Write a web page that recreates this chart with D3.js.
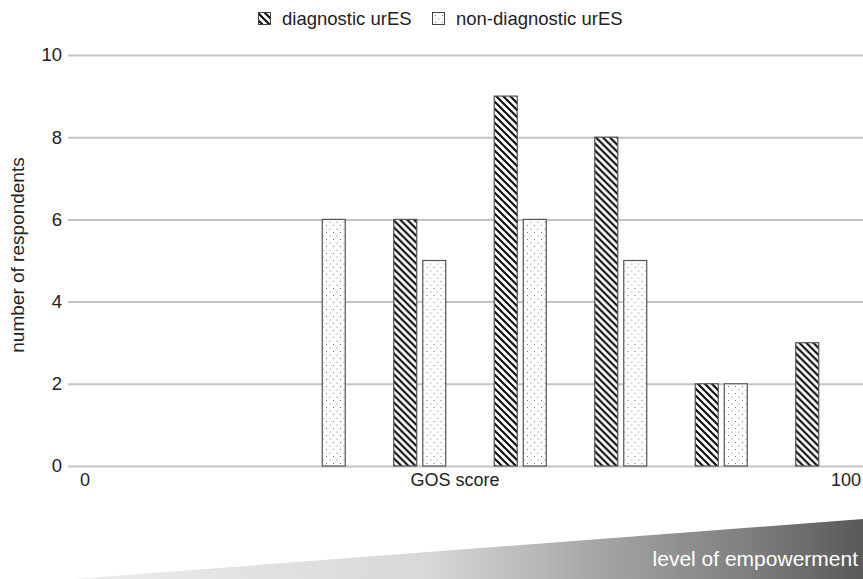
<!DOCTYPE html>
<html><head><meta charset="utf-8">
<script src="https://cdn.jsdelivr.net/npm/d3@7"></script>
<style>body{margin:0;background:#fff;} text{font-family:"Liberation Sans",Arial,Helvetica,sans-serif;}</style>
</head><body><div id="chart"></div>
<script>
const categories = ["b1","b2","b3","b4","b5","b6","b7","b8"];
const seriesNames = ["diagnostic urES","non-diagnostic urES"];
const diagnostic = [0,0,0,6,9,8,2,3];
const nonDiagnostic = [0,0,6,5,6,5,2,0];
const yTicks = [0,2,4,6,8,10];
const xEndLabels = ["0","100"];

const W=863,H=579;
const svg=d3.select("#chart").append("svg").attr("width",W).attr("height",H);
const defs=svg.append("defs");
const hatch=defs.append("pattern").attr("id","hatch").attr("patternUnits","userSpaceOnUse").attr("width",7).attr("height",7);
hatch.append("rect").attr("width",7).attr("height",7).attr("fill","#fff");
hatch.append("path").attr("d","M-1,-1L8,8M-1,6L1,8M6,-1L8,1").attr("stroke","#111").attr("stroke-width",2.2);
const dots=defs.append("pattern").attr("id","dots").attr("patternUnits","userSpaceOnUse").attr("width",7).attr("height",7);
dots.append("rect").attr("width",7).attr("height",7).attr("fill","#fff");
dots.append("circle").attr("cx",1.5).attr("cy",1.5).attr("r",0.55).attr("fill","#666");
dots.append("circle").attr("cx",5).attr("cy",5).attr("r",0.55).attr("fill","#666");
const grad=defs.append("linearGradient").attr("id","emp").attr("gradientUnits","userSpaceOnUse").attr("x1",74).attr("x2",863).attr("y1",0).attr("y2",0);
[[0,"#ececec"],[0.45,"#d8d8d8"],[0.67,"#a4a4a4"],[0.85,"#808080"],[1,"#595959"]].forEach(([o,c])=>grad.append("stop").attr("offset",o).attr("stop-color",c));

const x=d3.scaleBand().domain(categories).range([68,872]).paddingInner(0);
const bw=x.bandwidth();
const x1=d3.scaleBand().domain(seriesNames).range([bw/2-26,bw/2+26]).paddingInner(0.207);
const y=d3.scaleLinear().domain([0,10]).range([466,55]);

// gridlines
const yAxis=d3.axisLeft(y).tickValues(yTicks).tickSize(-(W-68)).tickFormat(d3.format("d"));
const ga=svg.append("g").attr("transform","translate(68,0)").call(yAxis);
ga.select(".domain").remove();
ga.selectAll(".tick line").attr("stroke","#c4c4c4").attr("stroke-width",2);
ga.selectAll(".tick text").attr("x",-6).attr("font-size",18.5).attr("fill","#222").attr("font-family","Liberation Sans, Arial, sans-serif");

// bars
const data=categories.map((c,i)=>({c,vals:[{s:seriesNames[0],v:diagnostic[i]},{s:seriesNames[1],v:nonDiagnostic[i]}]}));
const g=svg.append("g");
g.selectAll("g").data(data).join("g").attr("transform",d=>`translate(${x(d.c)},0)`)
 .selectAll("rect").data(d=>d.vals.filter(e=>e.v>0)).join("rect")
 .attr("x",e=>x1(e.s)).attr("width",x1.bandwidth())
 .attr("y",e=>y(e.v)).attr("height",e=>y(0)-y(e.v))
 .attr("fill",e=>e.s===seriesNames[0]?"url(#hatch)":"url(#dots)")
 .attr("stroke","#555").attr("stroke-width",1.2);

// x labels
svg.append("text").attr("x",85).attr("y",486).attr("text-anchor","middle").attr("font-size",18).attr("fill","#222").text(xEndLabels[0]);
svg.append("text").attr("x",861).attr("y",486).attr("text-anchor","end").attr("font-size",18).attr("fill","#222").text(xEndLabels[1]);
svg.append("text").attr("x",455).attr("y",486).attr("text-anchor","middle").attr("font-size",18).attr("fill","#222").text("GOS score");
// y title
svg.append("text").attr("transform","translate(24,255) rotate(-90)").attr("text-anchor","middle").attr("font-size",19).attr("fill","#222").text("number of respondents");

// legend
const leg=svg.append("g");
const legX=[258,432];
seriesNames.forEach((s,i)=>{
  leg.append("rect").attr("x",legX[i]+0.5).attr("y",12.5).attr("width",12).attr("height",12)
    .attr("fill",i===0?"url(#hatch)":"url(#dots)").attr("stroke","#444").attr("stroke-width",1);
  leg.append("text").attr("x",legX[i]+24).attr("y",25).attr("font-size",18.5).attr("fill","#222").text(s);
});

// empowerment wedge
svg.append("polygon").attr("points","74,579 863,519 863,579").attr("fill","url(#emp)");
svg.append("text").attr("x",858).attr("y",566).attr("text-anchor","end").attr("font-size",21).attr("fill","#fff").text("level of empowerment");
</script></body></html>
